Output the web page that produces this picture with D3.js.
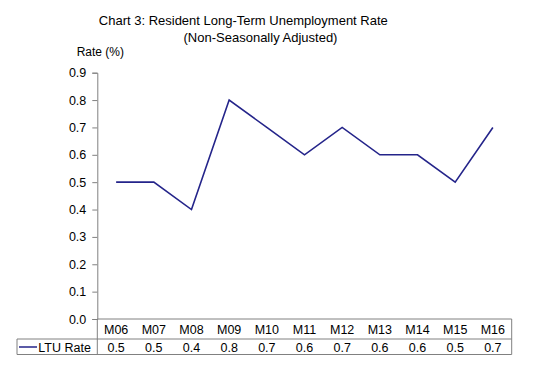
<!DOCTYPE html>
<html>
<head>
<meta charset="utf-8">
<script src="https://cdn.jsdelivr.net/npm/d3@7"></script>
<style>
  body { margin: 0; background: #fff; }
  text { font-family: "Liberation Sans", Arial, sans-serif; fill: #000; }
</style>
</head>
<body>
<svg id="chart" width="548" height="380"></svg>
<script>
// ---------- data

const CATEGORIES = ["M06", "M07", "M08", "M09", "M10", "M11", "M12", "M13", "M14", "M15", "M16"];
const LTU_RATE = [0.5, 0.5, 0.4, 0.8, 0.7, 0.6, 0.7, 0.6, 0.6, 0.5, 0.7];
const Y_TICKS = [0, 0.1, 0.2, 0.3, 0.4, 0.5, 0.6, 0.7, 0.8, 0.9];
const SERIES_NAME = "LTU Rate";

const LINE_COLOR = "#24248a";
const GRID_COLOR = "#808080";

// ---------- layout

const plot = { left: 97.3, right: 511.7, top: 72.7, bottom: 319 };
const row1Bottom = 339;
const row2Bottom = 354.5;
const legendLeft = 17;

const svg = d3.select("#chart");

const x = d3.scaleBand().domain(CATEGORIES).range([plot.left, plot.right]).padding(0);
const y = d3.scaleLinear().domain([0, 0.9]).range([plot.bottom, plot.top]);

// titles
svg.append("text").attr("x", 243.3).attr("y", 24.5).attr("text-anchor", "middle")
  .style("font-size", "13px").text("Chart 3: Resident Long-Term Unemployment Rate");
svg.append("text").attr("x", 260.5).attr("y", 41.5).attr("text-anchor", "middle")
  .style("font-size", "13px").text("(Non-Seasonally Adjusted)");
svg.append("text").attr("x", 76.7).attr("y", 56).style("font-size", "12px").text("Rate (%)");

// y axis
const yAxis = svg.append("g")
  .attr("transform", `translate(${plot.left},0)`)
  .call(d3.axisLeft(y).tickValues(Y_TICKS).tickFormat(d3.format(".1f")).tickSizeOuter(0).tickSize(5).tickPadding(6));
yAxis.select(".domain").attr("stroke", GRID_COLOR);
yAxis.selectAll(".tick line").attr("stroke", GRID_COLOR);
yAxis.selectAll(".tick text").style("font-size", "12.5px").attr("font-family", null);

// data table borders
const border = svg.append("g").attr("stroke", GRID_COLOR).attr("stroke-width", 1).attr("fill", "none");
border.append("line").attr("x1", plot.left).attr("x2", plot.right).attr("y1", plot.bottom).attr("y2", plot.bottom);
border.append("line").attr("x1", legendLeft).attr("x2", plot.right).attr("y1", row1Bottom).attr("y2", row1Bottom);
border.append("line").attr("x1", legendLeft).attr("x2", plot.right).attr("y1", row2Bottom).attr("y2", row2Bottom);
border.append("line").attr("x1", legendLeft).attr("x2", legendLeft).attr("y1", row1Bottom).attr("y2", row2Bottom);
border.append("line").attr("x1", plot.left).attr("x2", plot.left).attr("y1", plot.bottom).attr("y2", row2Bottom);
border.append("line").attr("x1", plot.right).attr("x2", plot.right).attr("y1", plot.bottom).attr("y2", row2Bottom);

// category row
svg.append("g").selectAll("text").data(CATEGORIES).join("text")
  .attr("x", d => x(d) + x.bandwidth() / 2)
  .attr("y", 334.3)
  .attr("text-anchor", "middle")
  .style("font-size", "12.5px")
  .text(d => d);

// value row
svg.append("g").selectAll("text").data(LTU_RATE).join("text")
  .attr("x", (d, i) => x(CATEGORIES[i]) + x.bandwidth() / 2)
  .attr("y", 351.7)
  .attr("text-anchor", "middle")
  .style("font-size", "12.5px")
  .text(d => d3.format(".1f")(d));

// legend key
svg.append("line").attr("x1", 19).attr("x2", 37).attr("y1", 347).attr("y2", 347)
  .attr("stroke", LINE_COLOR).attr("stroke-width", 1.5);
svg.append("text").attr("x", 38.3).attr("y", 351.7).style("font-size", "12.5px").text(SERIES_NAME);

// series line
const line = d3.line()
  .x((d, i) => x(CATEGORIES[i]) + x.bandwidth() / 2)
  .y(d => y(d));

svg.append("path").datum(LTU_RATE)
  .attr("fill", "none")
  .attr("stroke", LINE_COLOR)
  .attr("stroke-width", 1.6)
  .attr("stroke-linejoin", "miter")
  .attr("d", line);
</script>
</body>
</html>
